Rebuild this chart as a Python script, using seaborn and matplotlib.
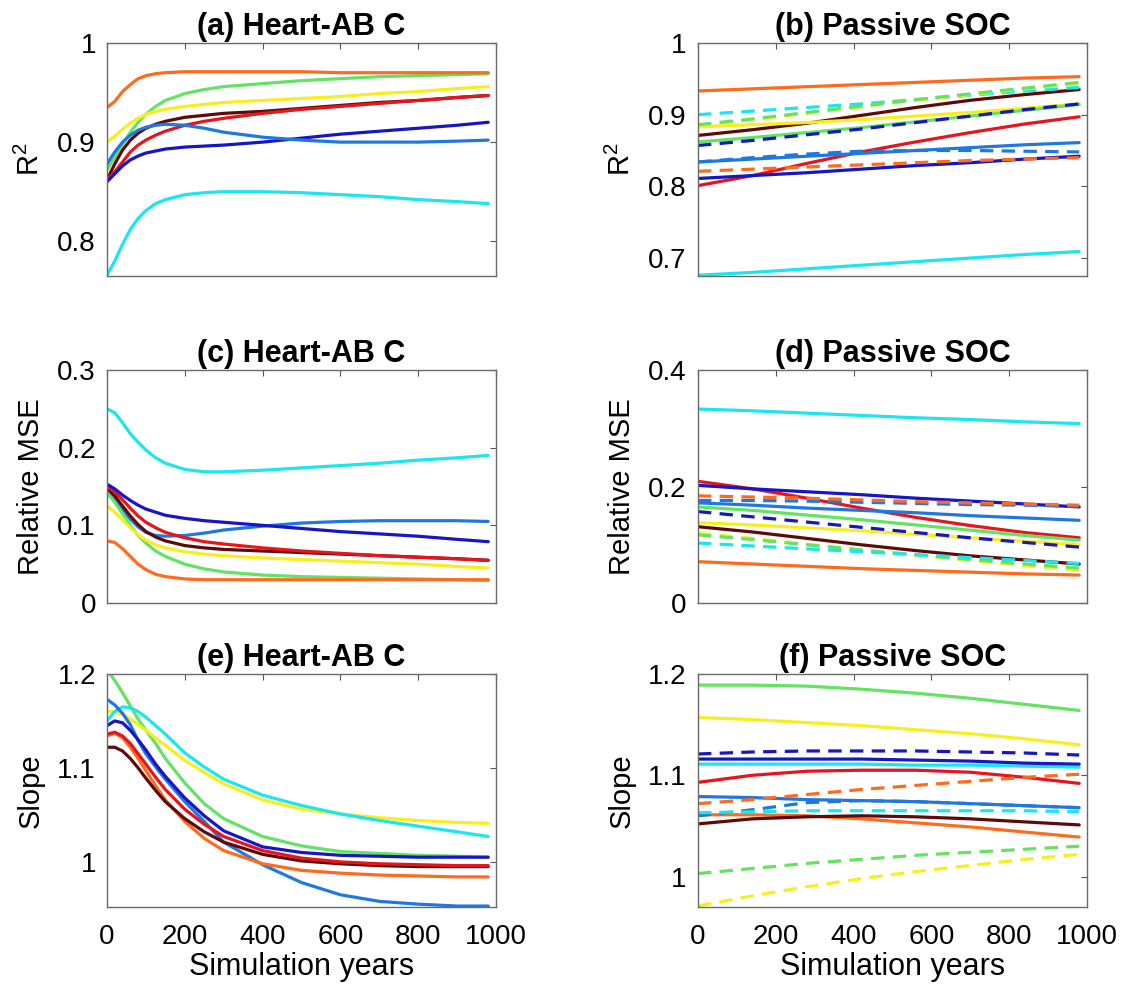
import matplotlib
matplotlib.use('Agg')
import numpy as np
import pandas as pd
import matplotlib.pyplot as plt
from matplotlib.ticker import FuncFormatter
import seaborn as sns

# x grids (simulation years)
years_left = [0, 20, 40, 60, 80, 100, 125, 150, 200, 250, 300, 400, 500, 600, 700, 800, 900, 980]
years_right = [0, 140, 280, 420, 560, 700, 840, 980]

colors = {
    'orange': '#FF6A1C',
    'green': '#62E462',
    'yellow': '#F7EF1B',
    'red': '#E8141B',
    'maroon': '#5C0A0A',
    'darkblue': '#1616C4',
    'medblue': '#1F78E0',
    'cyan': '#1AE6F0',
}

# (a) R2, Heart-AB C
r2_heart = {
    'green':    [0.872, 0.885, 0.898, 0.910, 0.920, 0.928, 0.936, 0.942, 0.949, 0.953, 0.956, 0.959, 0.962, 0.964, 0.966, 0.967, 0.968, 0.969],
    'orange':   [0.935, 0.941, 0.951, 0.958, 0.964, 0.967, 0.969, 0.970, 0.971, 0.971, 0.971, 0.971, 0.971, 0.970, 0.970, 0.970, 0.970, 0.970],
    'yellow':   [0.900, 0.906, 0.913, 0.919, 0.924, 0.928, 0.931, 0.933, 0.936, 0.938, 0.940, 0.942, 0.944, 0.946, 0.949, 0.951, 0.954, 0.956],
    'maroon':   [0.862, 0.878, 0.892, 0.902, 0.909, 0.914, 0.918, 0.921, 0.925, 0.927, 0.929, 0.931, 0.934, 0.937, 0.940, 0.942, 0.945, 0.947],
    'red':      [0.862, 0.870, 0.880, 0.890, 0.897, 0.902, 0.907, 0.911, 0.917, 0.921, 0.924, 0.929, 0.933, 0.936, 0.939, 0.942, 0.945, 0.947],
    'darkblue': [0.860, 0.868, 0.876, 0.882, 0.886, 0.889, 0.891, 0.893, 0.895, 0.896, 0.897, 0.900, 0.904, 0.908, 0.911, 0.914, 0.917, 0.920],
    'medblue':  [0.878, 0.890, 0.900, 0.907, 0.912, 0.915, 0.917, 0.918, 0.917, 0.914, 0.910, 0.905, 0.902, 0.900, 0.900, 0.900, 0.901, 0.902],
    'cyan':     [0.766, 0.780, 0.797, 0.812, 0.823, 0.831, 0.838, 0.842, 0.847, 0.849, 0.850, 0.850, 0.849, 0.847, 0.845, 0.842, 0.840, 0.838],
}

# (c) relative MSE, Heart-AB C
mse_heart = {
    'cyan':     [0.250, 0.245, 0.232, 0.218, 0.207, 0.197, 0.187, 0.180, 0.172, 0.169, 0.169, 0.171, 0.174, 0.177, 0.180, 0.184, 0.187, 0.190],
    'medblue':  [0.145, 0.133, 0.120, 0.108, 0.098, 0.091, 0.087, 0.086, 0.087, 0.090, 0.094, 0.099, 0.103, 0.105, 0.106, 0.106, 0.106, 0.105],
    'green':    [0.142, 0.130, 0.115, 0.100, 0.087, 0.077, 0.067, 0.060, 0.050, 0.044, 0.040, 0.036, 0.034, 0.033, 0.032, 0.031, 0.030, 0.029],
    'orange':   [0.080, 0.078, 0.070, 0.060, 0.050, 0.043, 0.037, 0.034, 0.031, 0.030, 0.030, 0.030, 0.030, 0.030, 0.030, 0.030, 0.030, 0.030],
    'yellow':   [0.125, 0.117, 0.107, 0.097, 0.088, 0.081, 0.075, 0.071, 0.066, 0.063, 0.061, 0.058, 0.056, 0.054, 0.052, 0.050, 0.047, 0.045],
    'maroon':   [0.148, 0.138, 0.125, 0.112, 0.101, 0.092, 0.085, 0.080, 0.074, 0.071, 0.069, 0.067, 0.065, 0.063, 0.061, 0.059, 0.057, 0.055],
    'red':      [0.150, 0.143, 0.133, 0.122, 0.112, 0.104, 0.097, 0.091, 0.084, 0.079, 0.076, 0.071, 0.067, 0.064, 0.061, 0.059, 0.057, 0.055],
    'darkblue': [0.153, 0.147, 0.139, 0.132, 0.126, 0.121, 0.117, 0.113, 0.109, 0.106, 0.104, 0.100, 0.096, 0.092, 0.089, 0.086, 0.082, 0.079],
}

# (e) slope, Heart-AB C
slope_heart = {
    'green':    [1.205, 1.193, 1.180, 1.166, 1.152, 1.140, 1.126, 1.110, 1.084, 1.062, 1.046, 1.027, 1.017, 1.011, 1.009, 1.007, 1.006, 1.005],
    'yellow':   [1.160, 1.160, 1.157, 1.152, 1.146, 1.140, 1.132, 1.124, 1.108, 1.095, 1.083, 1.066, 1.056, 1.051, 1.047, 1.044, 1.042, 1.041],
    'cyan':     [1.150, 1.160, 1.165, 1.164, 1.160, 1.154, 1.145, 1.136, 1.116, 1.101, 1.088, 1.071, 1.060, 1.051, 1.044, 1.038, 1.032, 1.027],
    'medblue':  [1.173, 1.167, 1.158, 1.146, 1.129, 1.115, 1.101, 1.088, 1.064, 1.043, 1.021, 0.997, 0.978, 0.965, 0.958, 0.955, 0.953, 0.953],
    'orange':   [1.134, 1.137, 1.132, 1.122, 1.110, 1.097, 1.081, 1.066, 1.043, 1.025, 1.012, 0.998, 0.991, 0.988, 0.986, 0.985, 0.984, 0.984],
    'maroon':   [1.122, 1.122, 1.118, 1.110, 1.100, 1.089, 1.076, 1.064, 1.046, 1.032, 1.021, 1.008, 1.001, 0.998, 0.996, 0.995, 0.995, 0.995],
    'red':      [1.136, 1.138, 1.134, 1.126, 1.115, 1.104, 1.090, 1.077, 1.056, 1.040, 1.027, 1.012, 1.004, 1.000, 0.998, 0.997, 0.996, 0.996],
    'darkblue': [1.145, 1.150, 1.148, 1.140, 1.130, 1.119, 1.104, 1.091, 1.068, 1.049, 1.033, 1.016, 1.010, 1.007, 1.006, 1.005, 1.005, 1.005],
}

# (b) R2, passive SOC (solid and dashed runs)
r2_soc = {
    'orange':   [0.933, 0.936, 0.939, 0.942, 0.945, 0.948, 0.951, 0.953],
    'maroon':   [0.871, 0.879, 0.888, 0.899, 0.910, 0.920, 0.928, 0.935],
    'yellow':   [0.883, 0.886, 0.889, 0.893, 0.898, 0.903, 0.909, 0.915],
    'green':    [0.862, 0.868, 0.875, 0.882, 0.890, 0.898, 0.906, 0.914],
    'red':      [0.801, 0.815, 0.832, 0.848, 0.862, 0.875, 0.887, 0.897],
    'medblue':  [0.834, 0.838, 0.842, 0.846, 0.850, 0.854, 0.858, 0.861],
    'darkblue': [0.811, 0.815, 0.819, 0.824, 0.829, 0.833, 0.838, 0.842],
    'cyan':     [0.676, 0.680, 0.685, 0.690, 0.695, 0.700, 0.705, 0.709],
}
r2_soc_dash = {
    'cyan':     [0.900, 0.905, 0.910, 0.915, 0.921, 0.927, 0.933, 0.938],
    'yellow':   [0.885, 0.893, 0.902, 0.911, 0.920, 0.928, 0.936, 0.943],
    'green':    [0.886, 0.894, 0.903, 0.912, 0.921, 0.929, 0.937, 0.945],
    'darkblue': [0.857, 0.864, 0.872, 0.880, 0.889, 0.898, 0.907, 0.915],
    'medblue':  [0.834, 0.840, 0.845, 0.849, 0.850, 0.850, 0.849, 0.848],
    'orange':   [0.821, 0.824, 0.827, 0.830, 0.833, 0.836, 0.838, 0.840],
}

# (d) relative MSE, passive SOC
mse_soc = {
    'cyan':     [0.333, 0.330, 0.326, 0.322, 0.318, 0.315, 0.311, 0.308],
    'red':      [0.209, 0.196, 0.180, 0.163, 0.147, 0.133, 0.121, 0.112],
    'darkblue': [0.202, 0.196, 0.191, 0.186, 0.180, 0.175, 0.170, 0.165],
    'medblue':  [0.172, 0.168, 0.163, 0.159, 0.155, 0.150, 0.146, 0.142],
    'green':    [0.165, 0.159, 0.151, 0.143, 0.134, 0.125, 0.116, 0.108],
    'yellow':   [0.138, 0.134, 0.129, 0.124, 0.118, 0.112, 0.106, 0.100],
    'maroon':   [0.131, 0.122, 0.111, 0.100, 0.090, 0.081, 0.074, 0.067],
    'orange':   [0.071, 0.067, 0.063, 0.059, 0.056, 0.053, 0.050, 0.048],
}
mse_soc_dash = {
    'medblue':  [0.176, 0.176, 0.175, 0.173, 0.171, 0.169, 0.168, 0.166],
    'orange':   [0.184, 0.182, 0.180, 0.177, 0.174, 0.172, 0.170, 0.168],
    'darkblue': [0.157, 0.148, 0.139, 0.130, 0.121, 0.112, 0.104, 0.096],
    'yellow':   [0.120, 0.111, 0.101, 0.091, 0.082, 0.073, 0.064, 0.056],
    'green':    [0.117, 0.109, 0.100, 0.091, 0.083, 0.075, 0.067, 0.060],
    'cyan':     [0.103, 0.098, 0.093, 0.088, 0.083, 0.078, 0.073, 0.068],
}

# (f) slope, passive SOC
slope_soc = {
    'green':    [1.189, 1.189, 1.188, 1.185, 1.181, 1.176, 1.170, 1.164],
    'yellow':   [1.157, 1.155, 1.152, 1.149, 1.145, 1.141, 1.136, 1.130],
    'cyan':     [1.111, 1.111, 1.111, 1.111, 1.110, 1.110, 1.109, 1.108],
    'darkblue': [1.116, 1.116, 1.116, 1.116, 1.115, 1.114, 1.112, 1.111],
    'red':      [1.093, 1.100, 1.104, 1.105, 1.105, 1.103, 1.098, 1.092],
    'medblue':  [1.079, 1.078, 1.076, 1.075, 1.074, 1.072, 1.070, 1.068],
    'orange':   [1.061, 1.061, 1.060, 1.057, 1.053, 1.049, 1.044, 1.039],
    'maroon':   [1.052, 1.057, 1.059, 1.060, 1.059, 1.057, 1.054, 1.051],
}
slope_soc_dash = {
    'darkblue': [1.121, 1.123, 1.124, 1.124, 1.124, 1.123, 1.122, 1.120],
    'orange':   [1.072, 1.076, 1.081, 1.086, 1.090, 1.094, 1.098, 1.101],
    'medblue':  [1.060, 1.066, 1.073, 1.075, 1.074, 1.072, 1.070, 1.068],
    'cyan':     [1.063, 1.064, 1.065, 1.065, 1.065, 1.065, 1.065, 1.064],
    'green':    [1.003, 1.008, 1.013, 1.017, 1.021, 1.024, 1.027, 1.030],
    'yellow':   [0.971, 0.981, 0.990, 0.998, 1.005, 1.011, 1.017, 1.022],
}

sns.set_theme(style='white')
plt.rcParams['font.family'] = ['Liberation Sans', 'DejaVu Sans']
plt.rcParams['mathtext.fontset'] = 'custom'
plt.rcParams['mathtext.rm'] = 'Liberation Sans'
plt.rcParams['text.color'] = 'black'
plt.rcParams['axes.labelcolor'] = 'black'

LW = 2.3
DASH = (0, (4.2, 2.6))


def draw_panel(ax, years, solid, dashed, title, ylabel, ylim, yticks, bottom_row):
    for name, vals in solid.items():
        sns.lineplot(x=years, y=vals, color=colors[name], linewidth=LW, ax=ax)
    for name, vals in dashed.items():
        sns.lineplot(x=years, y=vals, color=colors[name], linewidth=LW, linestyle=DASH, ax=ax)

    ax.set_xlim(0, 1000)
    ax.set_ylim(*ylim)
    ax.set_xticks(np.arange(0, 1001, 200))
    ax.set_yticks(yticks)
    ax.yaxis.set_major_formatter(FuncFormatter(lambda v, p: f'{v:g}'))
    ax.tick_params(direction='in', length=4, width=0.8, color='#555555', labelcolor='black',
                   top=True, right=True, labelsize=20)
    ax.tick_params(axis='y', pad=8)
    ax.tick_params(axis='x', pad=12)
    if bottom_row:
        ax.set_xlabel('Simulation years', fontsize=22, labelpad=2)
    else:
        ax.set_xticklabels([])
        ax.set_xlabel('')
    ax.set_ylabel(ylabel, fontsize=21, labelpad=9)
    ax.set_title(title, fontsize=22, fontweight='bold', pad=6)
    for sp in ax.spines.values():
        sp.set_color('#6a6a6a')
        sp.set_linewidth(1.0)


fig = plt.figure(figsize=(11.25, 9.92), dpi=100)
w, h = 0.3458, 0.2349
lx, rx = 0.0951, 0.6204
ys = [0.7218, 0.3921, 0.0857]

ax_a = fig.add_axes([lx, ys[0], w, h])
ax_b = fig.add_axes([rx, ys[0], w, h])
ax_c = fig.add_axes([lx, ys[1], w, h])
ax_d = fig.add_axes([rx, ys[1], w, h])
ax_e = fig.add_axes([lx, ys[2], w, h])
ax_f = fig.add_axes([rx, ys[2], w, h])

draw_panel(ax_a, years_left, r2_heart, {}, '(a) Heart-AB C', r'R$^2$',
           (0.765, 1.0), [0.8, 0.9, 1.0], False)
draw_panel(ax_b, years_right, r2_soc, r2_soc_dash, '(b) Passive SOC', r'R$^2$',
           (0.675, 1.0), [0.7, 0.8, 0.9, 1.0], False)
draw_panel(ax_c, years_left, mse_heart, {}, '(c) Heart-AB C', 'Relative MSE',
           (0, 0.3), [0, 0.1, 0.2, 0.3], False)
draw_panel(ax_d, years_right, mse_soc, mse_soc_dash, '(d) Passive SOC', 'Relative MSE',
           (0, 0.4), [0, 0.2, 0.4], False)
draw_panel(ax_e, years_left, slope_heart, {}, '(e) Heart-AB C', 'Slope',
           (0.952, 1.2), [1.0, 1.1, 1.2], True)
draw_panel(ax_f, years_right, slope_soc, slope_soc_dash, '(f) Passive SOC', 'Slope',
           (0.97, 1.2), [1.0, 1.1, 1.2], True)

fig.savefig('out.png', dpi=100)
